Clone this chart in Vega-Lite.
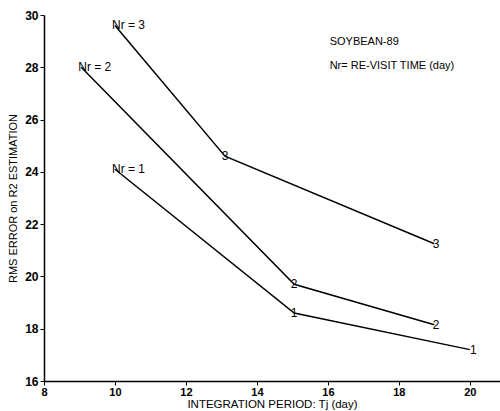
{
  "$schema": "https://vega.github.io/schema/vega-lite/v6.json",
  "autosize": {"type": "none"},
  "padding": {"left": 44, "top": 15, "right": 0, "bottom": 30},
  "width": 456,
  "height": 366,
  "background": "white",
  "config": {
    "view": {"stroke": null},
    "font": "Liberation Sans",
    "axis": {"domainColor": "black", "tickColor": "black", "labelColor": "black", "titleColor": "black", "grid": false, "domainWidth": 1.5, "tickWidth": 1}
  },
  "datasets": {
    "lines": [
      {"series": "3", "x": 10, "y": 29.6},
      {"series": "3", "x": 13.1, "y": 24.6},
      {"series": "3", "x": 19, "y": 21.25},
      {"series": "2", "x": 9.05, "y": 28.0},
      {"series": "2", "x": 15.05, "y": 19.7},
      {"series": "2", "x": 19, "y": 18.15},
      {"series": "1", "x": 10, "y": 24.1},
      {"series": "1", "x": 15.05, "y": 18.6},
      {"series": "1", "x": 20, "y": 17.2}
    ],
    "startLabels": [
      {"x": 10, "y": 29.6, "label": "Nr = 3"},
      {"x": 9.05, "y": 28.0, "label": "Nr = 2"},
      {"x": 10, "y": 24.1, "label": "Nr = 1"}
    ],
    "pointLabels": [
      {"x": 13.1, "y": 24.6, "label": "3"},
      {"x": 19.05, "y": 21.25, "label": "3"},
      {"x": 15.05, "y": 19.7, "label": "2"},
      {"x": 19.05, "y": 18.15, "label": "2"},
      {"x": 15.05, "y": 18.6, "label": "1"},
      {"x": 20.1, "y": 17.2, "label": "1"}
    ],
    "notes": [
      {"x": 16.05, "y": 28.95, "label": "SOYBEAN-89"},
      {"x": 16.05, "y": 28.05, "label": "Nr= RE-VISIT TIME (day)"}
    ]
  },
  "layer": [
    {
      "mark": {"type": "rule", "color": "black", "strokeWidth": 1.5},
      "encoding": {"y": {"datum": 30, "type": "quantitative", "scale": {"domain": [16, 30]}}}
    },
    {
      "data": {"name": "lines"},
      "mark": {"type": "line", "color": "black", "strokeWidth": 1.5},
      "encoding": {
        "x": {
          "field": "x", "type": "quantitative",
          "scale": {"domain": [8, 20.85], "nice": false, "zero": false},
          "axis": {"values": [8, 10, 12, 14, 16, 18, 20], "title": "INTEGRATION PERIOD:  Tj (day)", "labelFontSize": 11, "labelFontWeight": "bold", "titleFontSize": 11.5, "titleFontWeight": "normal", "tickSize": 4, "labelPadding": 1, "titlePadding": 1, "labelFlush": false}
        },
        "y": {
          "field": "y", "type": "quantitative",
          "scale": {"domain": [16, 30], "nice": false, "zero": false},
          "axis": {"values": [16, 18, 20, 22, 24, 26, 28, 30], "title": "RMS ERROR on R2 ESTIMATION", "labelFontSize": 12, "labelFontWeight": "bold", "titleFontSize": 11, "titleFontWeight": "normal", "tickSize": 4, "labelPadding": 2, "titlePadding": 6, "labelFlush": false}
        },
        "detail": {"field": "series"},
        "order": {"field": "x"}
      }
    },
    {
      "data": {"name": "startLabels"},
      "mark": {"type": "text", "align": "left", "baseline": "middle", "dx": -3, "fontSize": 12, "color": "black"},
      "encoding": {
        "x": {"field": "x", "type": "quantitative"},
        "y": {"field": "y", "type": "quantitative"},
        "text": {"field": "label"}
      }
    },
    {
      "data": {"name": "pointLabels"},
      "mark": {"type": "text", "align": "center", "baseline": "middle", "fontSize": 12, "color": "black"},
      "encoding": {
        "x": {"field": "x", "type": "quantitative"},
        "y": {"field": "y", "type": "quantitative"},
        "text": {"field": "label"}
      }
    },
    {
      "data": {"name": "notes"},
      "mark": {"type": "text", "align": "left", "baseline": "middle", "fontSize": 11, "color": "black"},
      "encoding": {
        "x": {"field": "x", "type": "quantitative"},
        "y": {"field": "y", "type": "quantitative"},
        "text": {"field": "label"}
      }
    }
  ]
}
